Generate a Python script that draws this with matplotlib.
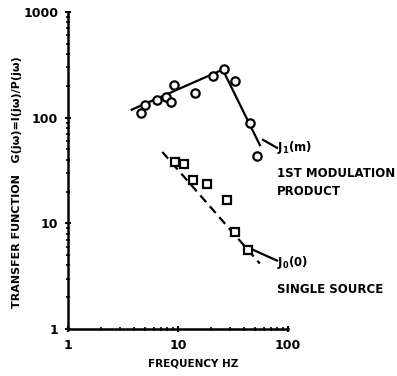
import matplotlib
matplotlib.use("Agg")
import matplotlib.pyplot as plt
from matplotlib.ticker import LogLocator, NullFormatter, FixedLocator, FixedFormatter

# J1 (1st modulation product) measured points (circles)
j1_freq = [4.6, 5.0, 6.4, 7.8, 8.6, 9.2, 14.3, 20.8, 26.2, 33.0, 45.0, 52.0]
j1_gain = [111, 133, 148, 158, 142, 202, 173, 246, 287, 220, 90, 43.5]
# J1 fitted curve
j1_fit_freq = [3.8, 25.5, 55.5]
j1_fit_gain = [119, 285, 55]
# J0 (single source) measured points (squares)
j0_freq = [9.4, 11.3, 13.7, 18.3, 27.9, 33.0, 43.3]
j0_gain = [38.1, 36.5, 25.7, 23.5, 16.6, 8.2, 5.65]
# J0 fitted curve
j0_fit_freq = [7.2, 55.5]
j0_fit_gain = [47.4, 4.16]
# leader lines to labels
j1_lead_freq = [59.3, 79.4]
j1_lead_gain = [61.7, 51.8]
j0_lead_freq = [43.3, 79.4]
j0_lead_gain = [5.9, 4.44]

x_ticks = [1, 10, 100]
x_tick_labels = ["1", "10", "100"]
y_ticks = [1, 10, 100, 1000]
y_tick_labels = ["1", "10", "100", "1000"]

plt.rcParams['font.family'] = ['DejaVu Sans']
plt.rcParams['font.weight'] = 'bold'

fig = plt.figure(figsize=(3.97, 3.76), dpi=100)
ax = fig.add_axes([68/397, 47/376, 220/397, 317/376])
ax.set_xscale('log')
ax.set_yscale('log')
ax.set_xlim(1, 100)
ax.set_ylim(1, 1000)

ax.plot(j1_fit_freq, j1_fit_gain, color='black', lw=1.6, zorder=2)
ax.plot(j1_lead_freq, j1_lead_gain, color='black', lw=1.6)
ax.plot(j1_freq, j1_gain, 'o', mfc='white', mec='black', mew=1.6, ms=6, zorder=3)

ax.plot(j0_fit_freq, j0_fit_gain, color='black', lw=1.6, ls=(0, (4, 2.5)), zorder=2)
ax.plot(j0_lead_freq, j0_lead_gain, color='black', lw=1.6)
ax.plot(j0_freq, j0_gain, 's', mfc='white', mec='black', mew=1.6, ms=5.5, zorder=3)

for s in ['top', 'right']:
    ax.spines[s].set_visible(False)
for s in ['left', 'bottom']:
    ax.spines[s].set_linewidth(1.8)

ax.xaxis.set_major_locator(FixedLocator(x_ticks))
ax.xaxis.set_major_formatter(FixedFormatter(x_tick_labels))
ax.yaxis.set_major_locator(FixedLocator(y_ticks))
ax.yaxis.set_major_formatter(FixedFormatter(y_tick_labels))
ax.xaxis.set_minor_locator(LogLocator(base=10, subs=range(2, 10)))
ax.yaxis.set_minor_locator(LogLocator(base=10, subs=range(2, 10)))
ax.xaxis.set_minor_formatter(NullFormatter())
ax.yaxis.set_minor_formatter(NullFormatter())
ax.tick_params(which='major', direction='inout', length=4, width=1.5, labelsize=9, pad=5)
ax.tick_params(which='minor', direction='inout', length=3, width=1.2)

ax.set_xlabel("FREQUENCY HZ", fontsize=7.5, fontweight='bold')
ax.set_ylabel("TRANSFER FUNCTION   G(jω)=I(jω)/P(jω)", fontsize=8, fontweight='bold')
ax.xaxis.set_label_coords((193 - 68) / 220, -(363 - 329) / 317, transform=ax.transAxes)
ax.yaxis.set_label_coords((17 - 68) / 220, (329 - 182) / 317, transform=ax.transAxes)
ax.xaxis.label.set_va('center')
ax.yaxis.label.set_va('center')

ax.text(80, 52, r"J$_1$(m)", fontsize=8.5, fontweight='bold', va='center', ha='left')
ax.text(80, 29.9, "1ST MODULATION", fontsize=8.5, fontweight='bold', va='center', ha='left')
ax.text(80, 19.8, "PRODUCT", fontsize=8.5, fontweight='bold', va='center', ha='left')
ax.text(80, 4.3, r"J$_0$(0)", fontsize=8.5, fontweight='bold', va='center', ha='left')
ax.text(80, 2.35, "SINGLE SOURCE", fontsize=8.5, fontweight='bold', va='center', ha='left')

fig.savefig("out.png", dpi=100)
